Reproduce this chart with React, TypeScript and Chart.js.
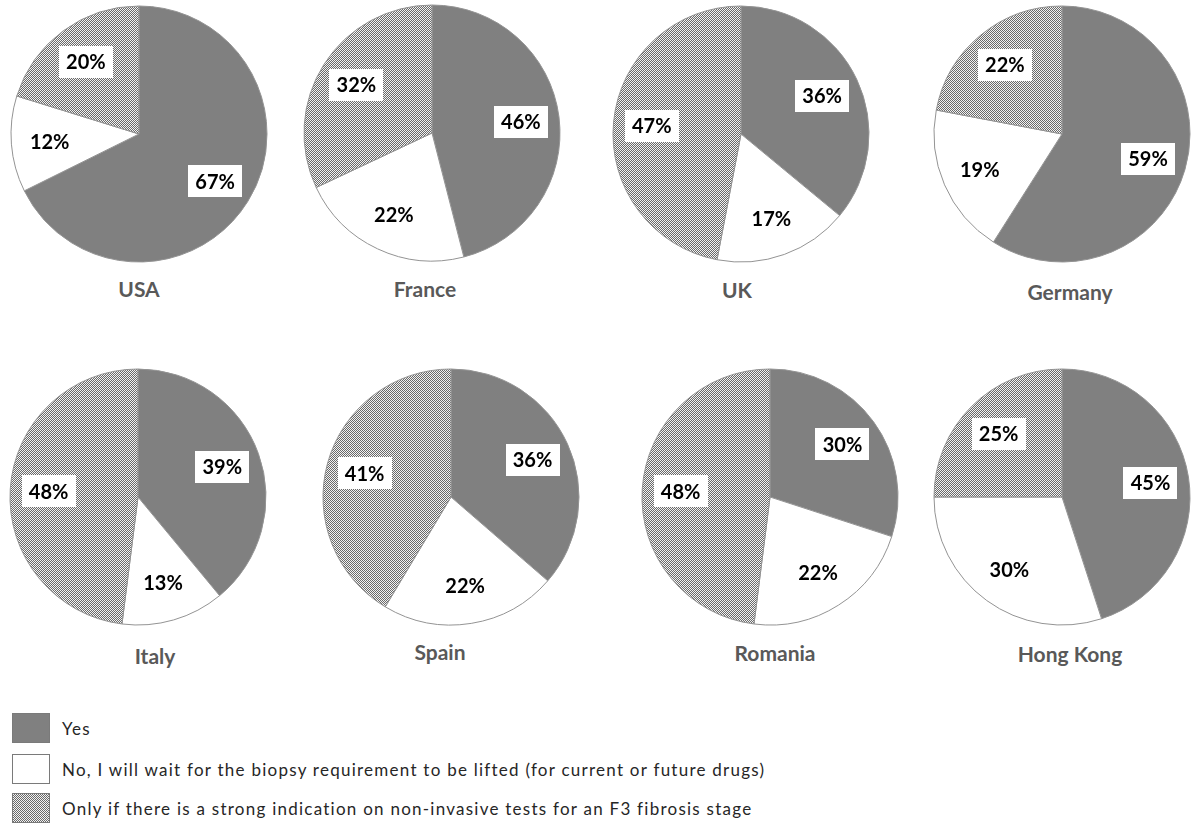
import React, { useEffect, useRef } from "react";
import { Chart, registerables } from "chart.js";
Chart.register(...registerables);

// ---- data ----
const countries = ["USA", "France", "UK", "Germany", "Italy", "Spain", "Romania", "Hong Kong"];
const yesValues = [67, 46, 36, 59, 39, 36, 30, 45];
const noValues = [12, 22, 17, 19, 13, 22, 22, 30];
const onlyIfValues = [20, 32, 47, 22, 48, 41, 48, 25];
const answers = [
  "Yes",
  "No, I will wait for the biopsy requirement to be lifted (for current or future drugs)",
  "Only if there is a strong indication on non-invasive tests for an F3 fibrosis stage",
];

// ---- layout (panel centres and title centres on the page) ----
const pieCentersX = [139, 432, 741, 1062, 138, 451, 770, 1062];
const pieCentersY = [134, 133, 134, 134, 497, 497, 497, 497];
const titleCentersX = [139, 425, 737, 1070, 155, 440, 775, 1070];
const titleCentersY = [289, 289, 290, 292, 656, 652, 653, 654];

const YES_COLOR = "#808080";
const NO_COLOR = "#ffffff";
const BORDER_COLOR = "#939393";
const CANVAS_W = 266;
const CANVAS_H = 266;
const PIE_R = 128;

function makePattern(ctx: CanvasRenderingContext2D) {
  const c = document.createElement("canvas");
  c.width = 2;
  c.height = 2;
  const g = c.getContext("2d")!;
  g.fillStyle = "#f2f2f2";
  g.fillRect(0, 0, 2, 2);
  g.fillStyle = "#6a6a6a";
  g.fillRect(0, 0, 1, 1);
  g.fillRect(1, 1, 1, 1);
  return ctx.createPattern(c, "repeat")!;
}

const boxLabels = {
  id: "boxLabels",
  afterDatasetsDraw(chart: any) {
    const ctx: CanvasRenderingContext2D = chart.ctx;
    const meta = chart.getDatasetMeta(0);
    const data = chart.data.datasets[0].data as number[];
    ctx.save();
    ctx.font = "bold 20px Lato";
    ctx.textAlign = "center";
    ctx.textBaseline = "middle";
    meta.data.forEach((arc: any, i: number) => {
      const p = arc.getProps(["x", "y", "startAngle", "endAngle", "outerRadius"], true);
      const mid = (p.startAngle + p.endAngle) / 2;
      const d = p.outerRadius * 0.7;
      const lx = p.x + Math.cos(mid) * d;
      const ly = p.y + Math.sin(mid) * d;
      const text = data[i] + "%";
      const w = Math.round(ctx.measureText(text).width + 14);
      const h = 32;
      ctx.fillStyle = "#ffffff";
      ctx.fillRect(Math.round(lx - w / 2), Math.round(ly - h / 2), w, h);
      ctx.fillStyle = "#000000";
      ctx.fillText(text, lx, ly + 1);
    });
    ctx.restore();
  },
};

function Pie({ index }: { index: number }) {
  const ref = useRef<HTMLCanvasElement>(null);
  useEffect(() => {
    const canvas = ref.current!;
    const ctx = canvas.getContext("2d")!;
    const pattern = makePattern(ctx);
    const chart = new Chart(ctx, {
      type: "pie",
      data: {
        labels: answers,
        datasets: [
          {
            data: [yesValues[index], noValues[index], onlyIfValues[index]],
            backgroundColor: [YES_COLOR, NO_COLOR, pattern as any],
            borderColor: BORDER_COLOR,
            borderWidth: 1,
            radius: PIE_R,
          } as any,
        ],
      },
      options: {
        animation: false,
        responsive: false,
        events: [],
        layout: { padding: 0 },
        plugins: {
          legend: { display: false },
          tooltip: { enabled: false },
          title: { display: false },
        },
      } as any,
      plugins: [boxLabels],
    });
    return () => chart.destroy();
  }, [index]);
  return (
    <>
      <canvas
        ref={ref}
        width={CANVAS_W}
        height={CANVAS_H}
        style={{
          position: "absolute",
          left: pieCentersX[index] - CANVAS_W / 2,
          top: pieCentersY[index] - CANVAS_H / 2,
          width: CANVAS_W,
          height: CANVAS_H,
        }}
      />
      <div
        style={{
          position: "absolute",
          left: titleCentersX[index],
          top: titleCentersY[index],
          transform: "translate(-50%, -50%)",
          fontSize: 21,
          fontWeight: 700,
          color: "#595959",
          whiteSpace: "nowrap",
          lineHeight: 1.2,
        }}
      >
        {countries[index]}
      </div>
    </>
  );
}

const swatchStyles: React.CSSProperties[] = [
  { background: YES_COLOR, border: "1px solid #7a7a7a" },
  { background: "#ffffff", border: "1px solid #7a7a7a" },
  {
    backgroundImage: "repeating-conic-gradient(#6a6a6a 0% 25%, #f2f2f2 0% 50%)",
    backgroundSize: "2px 2px",
    border: "1px solid #7a7a7a",
  },
];
const legendTops = [713, 754, 793];

export default function App() {
  return (
    <div
      style={{
        position: "absolute",
        left: 0,
        top: 0,
        width: 1195,
        height: 830,
        overflow: "hidden",
        background: "#ffffff",
        fontFamily: "Lato, sans-serif",
      }}
    >
      {countries.map((_, i) => (
        <Pie key={i} index={i} />
      ))}
      {answers.map((a, i) => (
        <React.Fragment key={a}>
          <div
            style={{
              position: "absolute",
              left: 12,
              top: legendTops[i],
              width: 36,
              height: 28,
              boxSizing: "content-box",
              ...swatchStyles[i],
            }}
          />
          <div
            style={{
              position: "absolute",
              left: 62,
              top: legendTops[i] + 15,
              transform: "translateY(-50%)",
              fontSize: 17,
              letterSpacing: 1.25,
              color: "#262626",
              whiteSpace: "nowrap",
            }}
          >
            {a}
          </div>
        </React.Fragment>
      ))}
    </div>
  );
}
